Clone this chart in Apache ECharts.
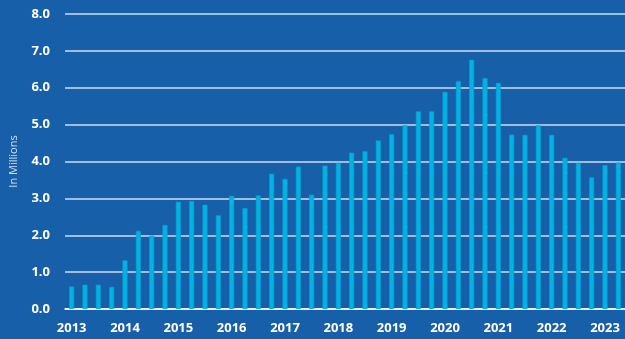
<!DOCTYPE html>
<html>
<head>
<meta charset="utf-8">
<script src="https://cdn.jsdelivr.net/npm/echarts@6/dist/echarts.min.js"></script>
<style>
html,body{margin:0;padding:0;background:#175fa9;}
#c{width:625px;height:339px;}
</style>
</head>
<body>
<div id="c"></div>
<script>
const years = ['2013','2014','2015','2016','2017','2018','2019','2020','2021','2022','2023'];
const quarters = ['Q1','Q2','Q3','Q4'];
const values = [
  0.61, 0.66, 0.66, 0.60,
  1.32, 2.12, 1.99, 2.28,
  2.91, 2.93, 2.83, 2.54,
  3.07, 2.74, 3.08, 3.67,
  3.53, 3.86, 3.10, 3.89,
  3.96, 4.24, 4.28, 4.57,
  4.74, 4.98, 5.36, 5.36,
  5.89, 6.18, 6.76, 6.26,
  6.13, 4.73, 4.72, 4.98,
  4.72, 4.10, 3.96, 3.57,
  3.90, 3.97
];
const yTicks = [0,1,2,3,4,5,6,7,8];
const yName = 'In Millions';

const categories = [];
for (const y of years) for (const q of quarters) {
  if (categories.length < values.length) categories.push(y + ' ' + q);
}

const chart = echarts.init(document.getElementById('c'));
chart.setOption({
  backgroundColor: '#175fa9',
  animation: false,
  grid: {left: 63, top: 14, width: 566, height: 295, containLabel: false},
  xAxis: {
    type: 'category',
    data: categories,
    boundaryGap: true,
    axisLine: {show: true, lineStyle: {color: '#ffffff', width: 1.5}},
    axisTick: {show: false},
    axisLabel: {
      interval: 3,
      color: '#ffffff',
      fontFamily: 'Open Sans',
      fontWeight: 'bold',
      fontSize: 13,
      margin: 13,
      formatter: v => v.slice(0, 4)
    },
    splitLine: {show: false}
  },
  yAxis: {
    type: 'value',
    min: yTicks[0],
    max: yTicks[yTicks.length - 1],
    interval: 1,
    name: yName,
    nameLocation: 'middle',
    nameRotate: 90,
    nameGap: 46,
    nameTextStyle: {color: 'rgba(255,255,255,0.8)', fontFamily: 'Open Sans', fontSize: 11},
    axisLine: {show: false},
    axisTick: {show: false},
    axisLabel: {
      color: '#ffffff',
      fontFamily: 'Open Sans',
      fontWeight: 'bold',
      fontSize: 13,
      margin: 15,
      formatter: v => v.toFixed(1)
    },
    splitLine: {show: true, lineStyle: {color: '#cfdcec', width: 1.5}}
  },
  series: [{
    type: 'bar',
    data: values,
    barWidth: 5,
    itemStyle: {color: '#00b3e3', borderColor: '#0a9dd0', borderWidth: 0.7}
  }]
});
</script>
</body>
</html>
